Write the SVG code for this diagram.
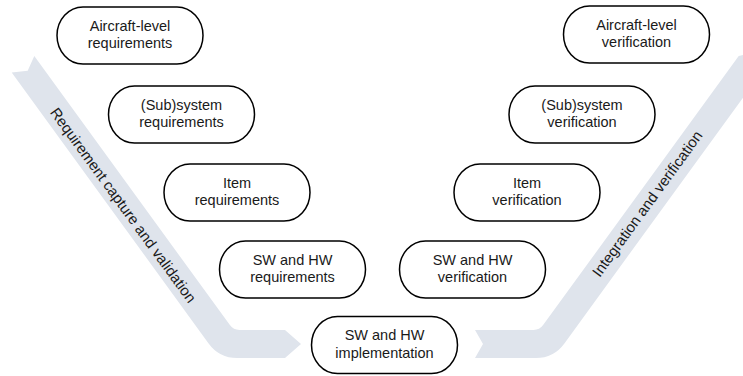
<svg xmlns="http://www.w3.org/2000/svg" width="743" height="376" viewBox="0 0 743 376">
  <style>
    .band { fill: #dfe4ec; }
    .band-label { font-family: "Liberation Sans", "DejaVu Sans", sans-serif; font-size: 15px; fill: #1a1a1a; text-anchor: middle; dominant-baseline: central; }
    .node rect { fill: #ffffff; stroke: #000000; stroke-width: 1.5; }
    .node text { font-family: "Liberation Sans", "DejaVu Sans", sans-serif; font-size: 14.5px; fill: #1a1a1a; text-anchor: middle; }
  </style>

  <!-- V-model phase arrows -->
  <g id="connectors">
    <g id="capture-validation">
      <path class="band" d="M 34.3 56.1 L 229.9 325.1 Q 233.4 330 239.4 330 L 285 330 L 301 344 L 285 358 L 237.2 358 Q 219.2 358 208.6 343.4 L 11.7 72.5 L 27.7 70.8 Z"/>
      <text class="band-label" transform="translate(123.5 205) rotate(54)">Requirement capture and validation</text>
    </g>
    <g id="integration-verification">
      <path class="band" d="M 475 330 L 533.6 330 Q 539.6 330 543.1 325.1 L 738.7 56.1 L 759.4 51.4 L 761.3 72.5 L 564.4 343.4 Q 553.8 358 535.8 358 L 475 358 L 483 344 Z"/>
      <text class="band-label" transform="translate(647 203.5) rotate(-54)">Integration and verification</text>
    </g>
  </g>

  <!-- Requirement side -->
  <g id="aircraft-req" class="node" transform="translate(130 35.5)">
    <rect x="-73" y="-28.5" width="146" height="57" rx="26" ry="28.5"/>
    <text y="-5">Aircraft-level</text>
    <text y="12.5">requirements</text>
  </g>
  <g id="subsystem-req" class="node" transform="translate(181.5 114.5)">
    <rect x="-73" y="-28.5" width="146" height="57" rx="26" ry="28.5"/>
    <text y="-5">(Sub)system</text>
    <text y="12.5">requirements</text>
  </g>
  <g id="item-req" class="node" transform="translate(237 192.5)">
    <rect x="-73" y="-28.5" width="146" height="57" rx="26" ry="28.5"/>
    <text y="-5">Item</text>
    <text y="12.5">requirements</text>
  </g>
  <g id="swhw-req" class="node" transform="translate(292.5 269.5)">
    <rect x="-73" y="-28.5" width="146" height="57" rx="26" ry="28.5"/>
    <text y="-5">SW and HW</text>
    <text y="12.5">requirements</text>
  </g>

  <!-- Bottom of the V -->
  <g id="swhw-impl" class="node" transform="translate(384.5 345)">
    <rect x="-73" y="-28.5" width="146" height="57" rx="26" ry="28.5"/>
    <text y="-5">SW and HW</text>
    <text y="12.5">implementation</text>
  </g>

  <!-- Verification side -->
  <g id="swhw-ver" class="node" transform="translate(472.5 269.5)">
    <rect x="-73" y="-28.5" width="146" height="57" rx="26" ry="28.5"/>
    <text y="-5">SW and HW</text>
    <text y="12.5">verification</text>
  </g>
  <g id="item-ver" class="node" transform="translate(527 192.5)">
    <rect x="-73" y="-28.5" width="146" height="57" rx="26" ry="28.5"/>
    <text y="-5">Item</text>
    <text y="12.5">verification</text>
  </g>
  <g id="subsystem-ver" class="node" transform="translate(582 114.5)">
    <rect x="-73" y="-28.5" width="146" height="57" rx="26" ry="28.5"/>
    <text y="-5">(Sub)system</text>
    <text y="12.5">verification</text>
  </g>
  <g id="aircraft-ver" class="node" transform="translate(636.5 34.5)">
    <rect x="-73" y="-28.5" width="146" height="57" rx="26" ry="28.5"/>
    <text y="-5">Aircraft-level</text>
    <text y="12.5">verification</text>
  </g>
</svg>
